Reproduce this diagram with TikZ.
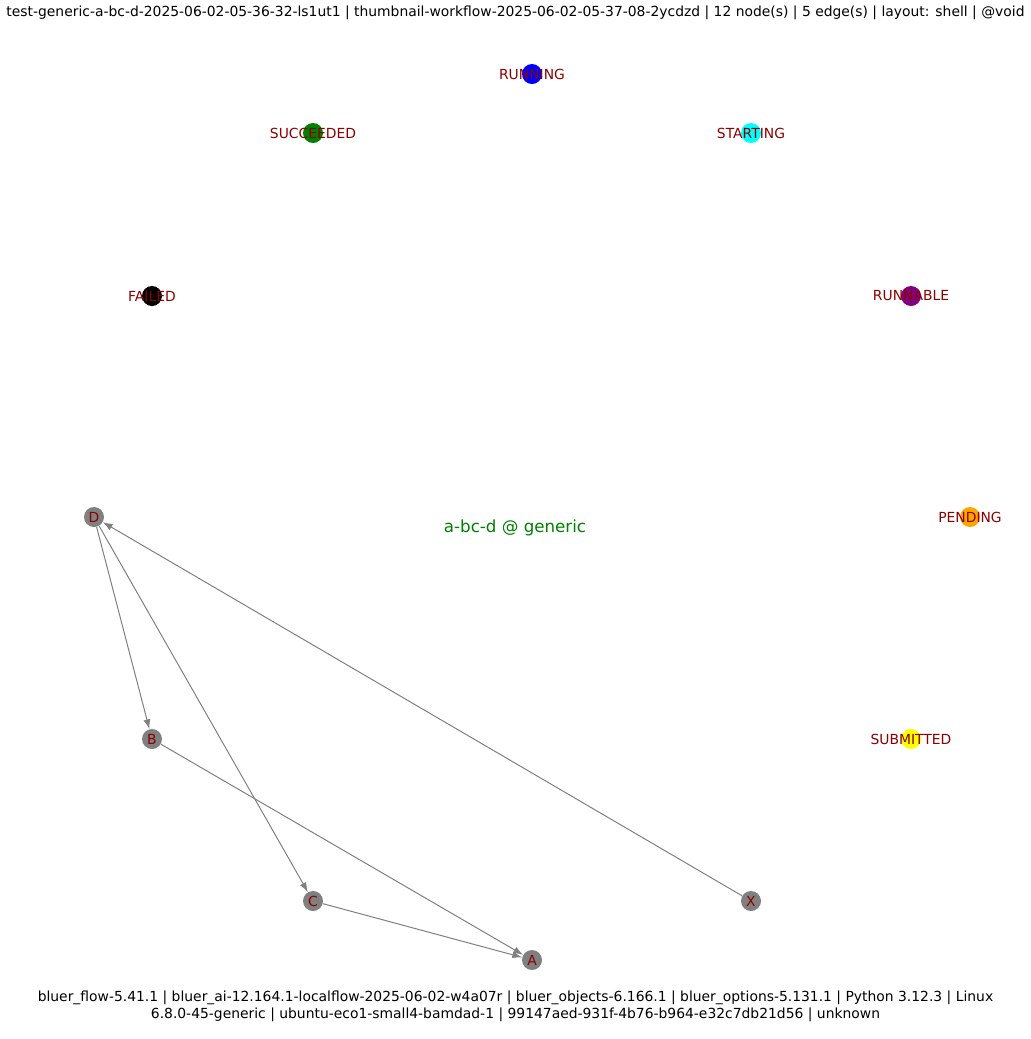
\documentclass[tikz,border=0pt]{standalone}
\usepackage{fontspec}
\setmainfont{DejaVu Sans}
\usepackage{tikz}
\usetikzlibrary{arrows.meta}
\usepackage{xcolor}

\definecolor{lblred}{HTML}{8B0000}
\definecolor{stgreen}{HTML}{008000}
\definecolor{stcyan}{HTML}{00FFFF}
\definecolor{stblue}{HTML}{0000FF}
\definecolor{styellow}{HTML}{FFFF00}
\definecolor{stpurple}{HTML}{800080}
\definecolor{storange}{HTML}{FFA500}
\definecolor{edgegray}{HTML}{808080}

\tikzset{
  dot/.style={circle,inner sep=0pt,minimum size=14.4pt,draw=none},
  lbl/.style={text=lblred,font=\fontsize{10}{12}\selectfont,inner sep=0pt},
  edge/.style={draw=edgegray,line width=0.72pt,-{Latex[length=7pt,width=5pt]}},
  info/.style={font=\fontsize{10}{12}\selectfont,inner sep=0pt,align=center}
}

\begin{document}
\begin{tikzpicture}[x=0.72pt,y=-0.72pt]
  \useasboundingbox (0,0) rectangle (1031,1039);
  % status ring
  \foreach \nm/\x/\y/\c/\t in {run/532/74/stblue/RUNNING,succ/313/133/stgreen/SUCCEEDED,
      start/751/133/stcyan/STARTING,fail/152/296/black/FAILED,rable/911/296/stpurple/RUNNABLE,
      pend/970/517/storange/PENDING,subm/911/739/styellow/SUBMITTED} {
    \node[dot,fill=\c] (\nm) at (\x,\y) {};
    \node[lbl] at (\nm) {\t};
  }
  % workflow nodes
  \foreach \nm/\x/\y in {D/94/517,B/152/739,C/313/901,X/751/901,A/532/960} {
    \node[dot,fill=edgegray] (\nm) at (\x,\y) {};
    \node[lbl] at (\nm) {\nm};
  }
  \draw[edge] (D) -- (B);
  \draw[edge] (D) -- (C);
  \draw[edge] (B) -- (A);
  \draw[edge] (C) -- (A);
  \draw[edge] (X) -- (D);
  \node[text=stgreen,font=\fontsize{12}{14}\selectfont] (ctr) at (515,528) {a-bc-d @ generic};
  \node[info] (title) at (515.5,13) {test-generic-a-bc-d-2025-06-02-05-36-32-ls1ut1 | thumbnail-workflow-2025-06-02-05-37-08-2ycdzd | 12 node(s) | 5 edge(s) | layout: shell | @void};
  \node[info] (foot) at (515.5,1006.5) {bluer\_flow-5.41.1 | bluer\_ai-12.164.1-localflow-2025-06-02-w4a07r | bluer\_objects-6.166.1 | bluer\_options-5.131.1 | Python 3.12.3 | Linux\\6.8.0-45-generic | ubuntu-eco1-small4-bamdad-1 | 99147aed-931f-4b76-b964-e32c7db21d56 | unknown};
\end{tikzpicture}
\end{document}
